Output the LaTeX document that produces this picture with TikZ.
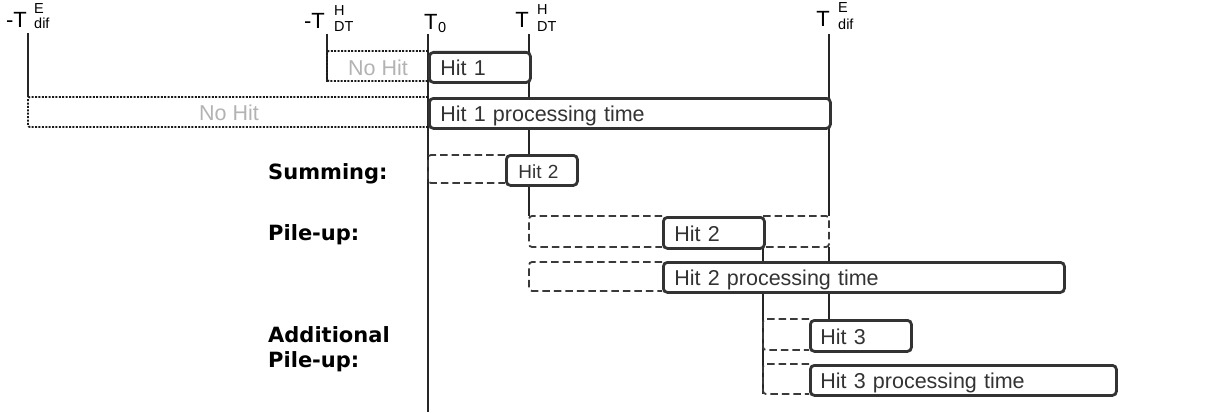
\documentclass[tikz,border=0pt]{standalone}
\usepackage{fontspec}
\setmainfont{Liberation Sans}
\newfontfamily\lblfont{DejaVu Sans}
\definecolor{ink}{HTML}{333333}
\definecolor{dashc}{HTML}{3A3A3A}
\definecolor{greytext}{HTML}{B3B3B3}
\begin{document}
\begin{tikzpicture}[x=1pt,y=-1pt,
  every node/.style={inner sep=0pt},
  tline/.style={line width=1.4pt, draw=black!85},
  dotbox/.style={line width=1.9pt, draw=black!90, dash pattern=on 2pt off 1.4pt, rounded corners=2pt},
  dashbox/.style={line width=1.8pt, draw=dashc, dash pattern=on 7.5pt off 4pt, rounded corners=3pt},
  hitbox/.style={draw=ink, line width=2.8pt, rounded corners=4pt, fill=white, anchor=north west,
    inner xsep=11pt, inner ysep=0pt, text=ink, font=\fontsize{21.5}{24}\selectfont,
    text height=17pt, text depth=0pt, align=left, minimum height=30pt},
  bigT/.style={font=\fontsize{22}{24}\selectfont, anchor=base east},
  scr/.style={font=\fontsize{14.5}{16}\selectfont, anchor=base west},
  rowlab/.style={font=\lblfont\bfseries\fontsize{21}{25}\selectfont, anchor=base west},
  nohit/.style={text=greytext, font=\fontsize{21.5}{24}\selectfont, anchor=base west}
]
\useasboundingbox (0,0) rectangle (1214,412);
\fill[white] (0,0) rectangle (1214,412);

% time labels
\node[bigT] (tEm) at (27,28) {-T};
\node[scr] (tEmS) at (34,14) {E};
\node[scr] (tEmB) at (34,29) {dif};
\node[bigT] (tHm) at (325,29) {-T};
\node[scr] (tHmS) at (334,16) {H};
\node[scr] (tHmB) at (334,32) {DT};
\node[bigT, anchor=base west] (t0) at (424,30) {T};
\node[scr] (t0B) at (438,33) {0};
\node[bigT] (tH) at (529,28) {T};
\node[scr] (tHS) at (537,15) {H};
\node[scr] (tHB) at (537,32) {DT};
\node[bigT] (tE) at (830,27) {T};
\node[scr] (tES) at (838,13) {E};
\node[scr] (tEB) at (838,30) {dif};

% time lines
\draw[tline] (28,33) -- (28,97);
\draw[tline] (327,34) -- (327,82);
\draw[tline] (428,34) -- (428,412);
\draw[tline] (529,34) -- (529,216);
\draw[tline] (829,34) -- (829,216);
\draw[tline] (829,247) -- (829,319);
\draw[tline] (763,247) -- (763,394);

% dotted no-hit windows
\draw[dotbox] (428,51) -- (327,51) -- (327,81) -- (428,81);
\draw[dotbox] (428,97) -- (28,97) -- (28,127) -- (428,127);
\node[nohit] (nh1) at (348,75) {No Hit};
\node[nohit] (nh2) at (199,120) {No Hit};

% dashed windows
\draw[dashbox] (505,155) -- (428,155) -- (428,183) -- (505,183);
\draw[dashbox] (662,216) -- (529,216) -- (529,247) -- (662,247);
\draw[dashbox] (763,216) -- (829,216) -- (829,247) -- (763,247);
\draw[dashbox] (662,262) -- (529,262) -- (529,291) -- (662,291);
\draw[dashbox] (809,319) -- (763,319) -- (763,350) -- (809,350);
\draw[dashbox] (809,364) -- (763,364) -- (763,394) -- (809,394);

% hit boxes
\node[hitbox, text width=79pt] (hit1) at (428,51) {Hit 1};
\node[hitbox, text width=379pt] (hit1p) at (428,97) {Hit 1 processing time};
\node[hitbox, text width=47pt, inner xsep=12pt, font=\fontsize{19}{22}\selectfont, text height=16pt] (sum2) at (505,154) {Hit 2};
\node[hitbox, text width=79pt, minimum height=31pt] (pile2) at (662,216) {Hit 2};
\node[hitbox, text width=379pt] (pile2p) at (662,261) {Hit 2 processing time};
\node[hitbox, text width=81pt, inner xsep=10pt, minimum height=31pt] (add3) at (809,319) {Hit 3};
\node[hitbox, text width=286pt, inner xsep=10pt] (add3p) at (809,364) {Hit 3 processing time};

% row labels
\node[rowlab] (lsum) at (268,179) {Summing:};
\node[rowlab] (lpile) at (268,240) {Pile-up:};
\node[rowlab, anchor=north west, align=left] (ladd) at (268,326) {Additional\\Pile-up:};
\end{tikzpicture}
\end{document}
